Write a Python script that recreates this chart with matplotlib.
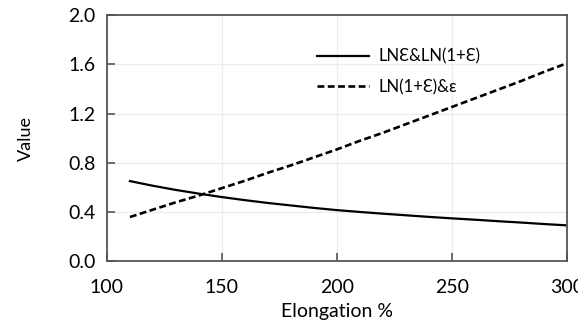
import matplotlib
matplotlib.use("Agg")
import matplotlib.pyplot as plt

plt.rcParams['font.family'] = ['Lato', 'DejaVu Sans']

elongation = [110, 120, 130, 140, 150, 160, 170, 180, 190, 200,
              210, 220, 230, 240, 250, 260, 270, 280, 290, 300]
ratio_ln_eps = [0.652, 0.614, 0.58, 0.55, 0.522, 0.497, 0.474, 0.454, 0.434, 0.416,
                0.401, 0.387, 0.374, 0.361, 0.349, 0.338, 0.326, 0.315, 0.303, 0.292]
ratio_ln1p_eps = [0.36, 0.42, 0.48, 0.535, 0.595, 0.655, 0.72, 0.78, 0.845, 0.91,
                  0.98, 1.045, 1.115, 1.185, 1.255, 1.325, 1.395, 1.465, 1.54, 1.61]

series_labels = ["LNƐ&LN(1+Ɛ)", "LN(1+Ɛ)&ε"]
x_ticks = [100, 150, 200, 250, 300]
y_ticks = [0.0, 0.4, 0.8, 1.2, 1.6, 2.0]

fig = plt.figure(figsize=(5.78, 3.25), dpi=100)
ax = fig.add_axes([0.185, 0.196, 0.796, 0.757])

ax.plot(elongation, ratio_ln_eps, color='black', lw=1.6, label=series_labels[0])
ax.plot(elongation, ratio_ln1p_eps, color='black', lw=1.9, ls=(0, (2.6, 1.3)),
        label=series_labels[1])

ax.set_xlim(100, 300)
ax.set_ylim(0, 2.0)
ax.set_xticks(x_ticks)
ax.set_yticks(y_ticks)
ax.set_xticklabels([str(v) for v in x_ticks])
ax.set_yticklabels([f"{v:.1f}" for v in y_ticks])
ax.grid(True, color='#ececec', lw=0.9)
ax.set_axisbelow(True)

for s in ax.spines.values():
    s.set_color('#555555')
    s.set_linewidth(1.3)
ax.tick_params(axis='both', direction='in', length=6, width=1.2, color='#555555',
               labelsize=14, labelcolor='black')
ax.tick_params(axis='x', pad=13)
ax.tick_params(axis='y', pad=8)

ax.set_xlabel("Elongation %", fontsize=14, labelpad=5)
ax.set_ylabel("Value", fontsize=13, labelpad=25)

leg = ax.legend(loc='upper left', bbox_to_anchor=(0.425, 0.925), frameon=False,
                fontsize=12, handlelength=3.1, handletextpad=0.55, labelspacing=0.85)

fig.savefig("out.png", dpi=100)
